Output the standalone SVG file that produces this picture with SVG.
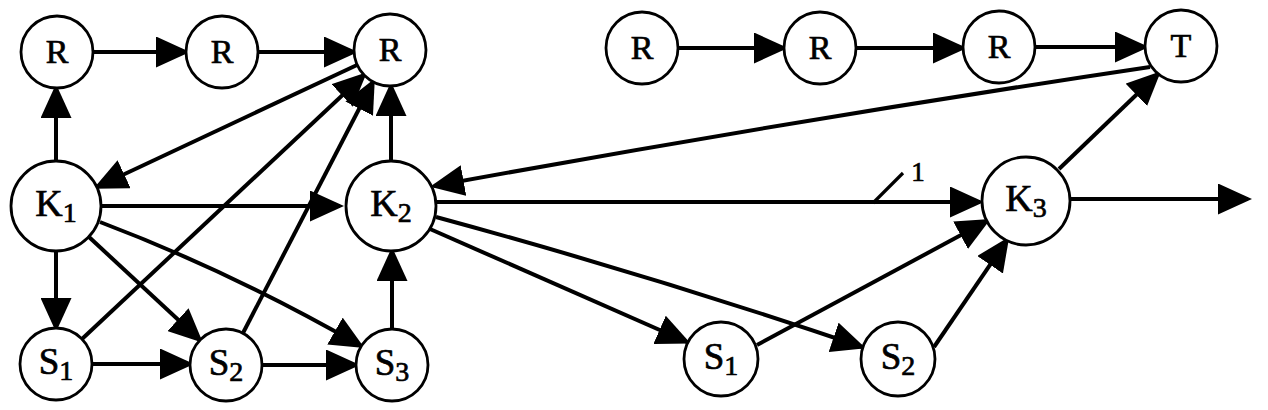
<svg xmlns="http://www.w3.org/2000/svg" width="1268" height="410" viewBox="0 0 1268 410">
<style>
.n circle{fill:#fff;stroke:#000;stroke-width:2.8}
.n text{font-family:"Liberation Serif","Times New Roman",serif;text-anchor:middle;fill:#000;stroke:#000;stroke-width:0.7}
.r{font-size:34px}
.k{font-size:38px}
.s{font-size:37px}
.sub{font-size:28px}
.e{fill:none;stroke:#000;stroke-width:4;marker-end:url(#a)}
.t{fill:none;stroke:#000;stroke-width:3.2}
.lbl{font-family:"Liberation Serif","Times New Roman",serif;font-size:27px;text-anchor:middle;fill:#000;stroke:#000;stroke-width:0.7}
</style>
<defs>
<marker id="a" markerUnits="userSpaceOnUse" markerWidth="34" markerHeight="31" refX="30" refY="15.5" orient="auto"><path d="M0,0L34,15.5L0,31z" fill="#000"/></marker>
</defs>
<g id="connectors">
<path class="e" d="M93,52H186"/>
<path class="e" d="M258,52H354"/>
<path class="e" d="M56,161V88"/>
<path class="e" d="M56,251V328"/>
<path class="e" d="M101,206H340"/>
<path class="e" d="M89,237L200,340"/>
<path class="e" d="M100,222Q232,272 361,346"/>
<path class="e" d="M357,65L97,187"/>
<path class="e" d="M82,339L364,75"/>
<path class="e" d="M243,333L373,82"/>
<path class="e" d="M391,161V86"/>
<path class="e" d="M392,329V251"/>
<path class="e" d="M92,364H190"/>
<path class="e" d="M262,365H356"/>
<path class="e" d="M678,48H784"/>
<path class="e" d="M856,48H963"/>
<path class="e" d="M1035,47H1145"/>
<path class="e" d="M1150,67Q795,120 434,186"/>
<path class="e" d="M436,202H980"/>
<path class="t" d="M873,203L903,173"/>
<path class="e" d="M430,229L687,342"/>
<path class="e" d="M436,217Q650,275 862,347"/>
<path class="e" d="M757,345L987,221"/>
<path class="e" d="M934,347L1007,240"/>
<path class="e" d="M1059,169L1158,74"/>
<path class="e" d="M1070,199H1248"/>
<text class="lbl" x="918" y="181">1</text>
</g>
<g id="R1" class="n"><circle cx="57" cy="52" r="36"/><text class="r" x="57" y="63">R</text></g>
<g id="R2" class="n"><circle cx="222" cy="52" r="36"/><text class="r" x="222" y="63">R</text></g>
<g id="R3" class="n"><circle cx="390" cy="50" r="36"/><text class="r" x="390" y="61">R</text></g>
<g id="K1" class="n"><circle cx="56" cy="206" r="45"/><text class="k" x="56" y="216">K<tspan class="sub" dy="6">1</tspan></text></g>
<g id="K2" class="n"><circle cx="391" cy="206" r="45"/><text class="k" x="391" y="216">K<tspan class="sub" dy="6">2</tspan></text></g>
<g id="S1" class="n"><circle cx="56" cy="364" r="36"/><text class="s" x="56" y="374">S<tspan class="sub" dy="6">1</tspan></text></g>
<g id="S2" class="n"><circle cx="226" cy="365" r="36"/><text class="s" x="226" y="375">S<tspan class="sub" dy="6">2</tspan></text></g>
<g id="S3" class="n"><circle cx="392" cy="365" r="36"/><text class="s" x="392" y="375">S<tspan class="sub" dy="6">3</tspan></text></g>
<g id="R4" class="n"><circle cx="642" cy="48" r="36"/><text class="r" x="642" y="59">R</text></g>
<g id="R5" class="n"><circle cx="820" cy="48" r="36"/><text class="r" x="820" y="59">R</text></g>
<g id="R6" class="n"><circle cx="999" cy="47" r="36"/><text class="r" x="999" y="58">R</text></g>
<g id="T" class="n"><circle cx="1181" cy="46" r="36"/><text class="r" x="1181" y="57">T</text></g>
<g id="K3" class="n"><circle cx="1026" cy="201" r="44"/><text class="k" x="1026" y="211">K<tspan class="sub" dy="6">3</tspan></text></g>
<g id="S1r" class="n"><circle cx="721" cy="359" r="37"/><text class="s" x="721" y="369">S<tspan class="sub" dy="6">1</tspan></text></g>
<g id="S2r" class="n"><circle cx="898" cy="359" r="37"/><text class="s" x="898" y="369">S<tspan class="sub" dy="6">2</tspan></text></g>
</svg>
